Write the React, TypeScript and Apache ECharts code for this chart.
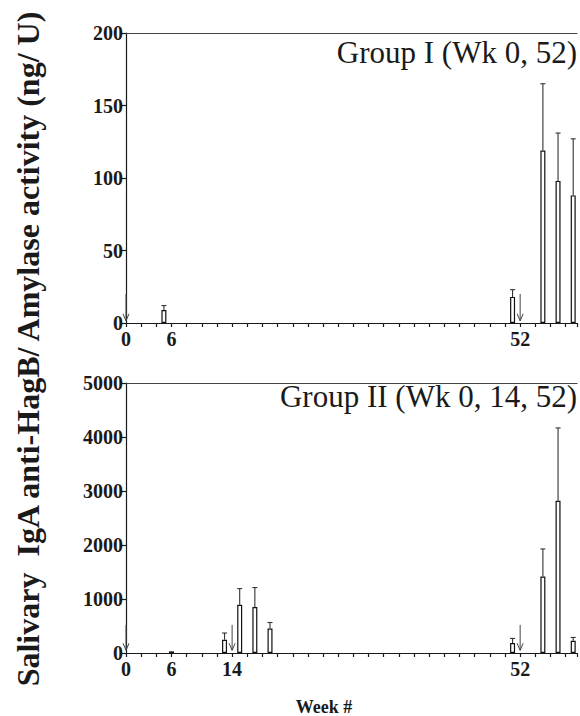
import React, { useEffect, useRef } from "react";
import * as echarts from "echarts";

// Group I (immunized wk 0, 52)
const weeksG1 = [5, 51, 55, 57, 59];
const meansG1 = [9, 18, 119, 98, 88];
const upperG1 = [12, 23, 165, 131, 127];
const arrowWeeksG1 = [0, 52];
const arrowSpanG1 = [20, 1.5];

// Group II (immunized wk 0, 14, 52)
const weeksG2 = [6, 13, 15, 17, 19, 51, 55, 57, 59];
const meansG2 = [30, 246, 892, 850, 454, 185, 1415, 2819, 227];
const upperG2 = [30, 370, 1193, 1212, 565, 270, 1927, 4168, 288];
const arrowWeeksG2 = [0, 14, 52];
const arrowSpanG2 = [520, 50];

const xLabelsG1 = [0, 6, 52];
const xLabelsG2 = [0, 6, 14, 52];
const titleG1 = "Group I (Wk 0, 52)";
const titleG2 = "Group II (Wk 0, 14, 52)";
const yTitle = "Salivary  IgA anti-HagB/ Amylase activity (ng/ U)";
const xTitle = "Week #";

const SERIF = "'Liberation Serif', 'Times New Roman', serif";
const INK = "#1a1a1a";

function errRender(params: any, api: any) {
  const x = api.value(0);
  const lo = api.value(1);
  const hi = api.value(2);
  if (hi <= lo) return { type: "group", children: [] };
  const p1 = api.coord([x, lo]);
  const p2 = api.coord([x, hi]);
  return {
    type: "group",
    children: [
      { type: "line", shape: { x1: p1[0], y1: p1[1], x2: p2[0], y2: p2[1] }, style: { stroke: "#333", lineWidth: 1.1 } },
      { type: "line", shape: { x1: p2[0] - 2.5, y1: p2[1], x2: p2[0] + 2.5, y2: p2[1] }, style: { stroke: "#333", lineWidth: 1.1 } },
    ],
  };
}

function arrowRender(params: any, api: any) {
  const x = api.value(0);
  const from = api.coord([x, api.value(1)]);
  const to = api.coord([x, api.value(2)]);
  const st = { stroke: "#444", lineWidth: 1 };
  return {
    type: "group",
    children: [
      { type: "line", shape: { x1: from[0], y1: from[1], x2: to[0], y2: to[1] }, style: st },
      { type: "line", shape: { x1: to[0] - 3, y1: to[1] - 7, x2: to[0], y2: to[1] }, style: st },
      { type: "line", shape: { x1: to[0] + 3, y1: to[1] - 7, x2: to[0], y2: to[1] }, style: st },
    ],
  };
}

function xAxisPair(grid: number, labels: number[]) {
  return [
    {
      type: "value",
      gridIndex: grid,
      min: 0,
      max: 59.5,
      interval: 2,
      axisLine: { show: true, lineStyle: { color: INK, width: 1.2 } },
      axisTick: { show: true, length: 4, lineStyle: { color: INK, width: 1.2 } },
      splitLine: { show: false },
      axisLabel: {
        margin: 6,
        fontFamily: SERIF,
        fontWeight: "bold",
        fontSize: 20,
        color: INK,
        formatter: (v: number) => (labels.indexOf(v) >= 0 ? String(v) : ""),
      },
    },
    {
      type: "value",
      gridIndex: grid,
      position: "top",
      min: 0,
      max: 59.5,
      axisLine: { show: true, lineStyle: { color: "#444", width: 1.2 } },
      axisTick: { show: false },
      axisLabel: { show: false },
      splitLine: { show: false },
    },
  ];
}

function yAxis(grid: number, max: number, interval: number) {
  return {
    type: "value",
    gridIndex: grid,
    min: 0,
    max,
    interval,
    axisLine: { show: true, lineStyle: { color: INK, width: 1.2 } },
    axisTick: { show: true, length: 5, lineStyle: { color: INK, width: 1.2 } },
    splitLine: { show: false },
    axisLabel: {
      margin: 3,
      fontFamily: SERIF,
      fontWeight: "bold",
      fontSize: 20,
      color: INK,
      formatter: (v: number) => String(v),
    },
  };
}

export default function App() {
  const ref = useRef<HTMLDivElement>(null);
  useEffect(() => {
    if (!ref.current) return;
    const chart = echarts.init(ref.current, null, { renderer: "svg" });
    const barStyle = { color: "#fff", borderColor: "#111", borderWidth: 1.2 };
    const titleStyle = { fontFamily: SERIF, fontSize: 31, fontWeight: "normal", color: INK };
    chart.setOption({
      animation: false,
      backgroundColor: "#fff",
      title: [
        { text: titleG1, right: 3, top: 37, padding: 0, textStyle: titleStyle },
        { text: titleG2, right: 3, top: 381, padding: 0, textStyle: titleStyle },
      ],
      grid: [
        { left: 126, right: 0, top: 33, height: 290 },
        { left: 126, right: 0, top: 383, height: 270 },
      ],
      xAxis: [...xAxisPair(0, xLabelsG1), ...xAxisPair(1, xLabelsG2)],
      yAxis: [yAxis(0, 200, 50), yAxis(1, 5000, 1000)],
      graphic: [
        {
          type: "text",
          x: 28,
          y: 349,
          rotation: Math.PI / 2,
          style: { text: yTitle, fontFamily: SERIF, fontWeight: "bold", fontSize: 32, fill: INK, align: "center", verticalAlign: "middle" },
        },
        {
          type: "text",
          x: 324,
          y: 707,
          style: { text: xTitle, fontFamily: SERIF, fontWeight: "bold", fontSize: 18, fill: INK, align: "center", verticalAlign: "middle" },
        },
      ],
      series: [
        {
          type: "bar",
          xAxisIndex: 0,
          yAxisIndex: 0,
          barWidth: 5,
          itemStyle: barStyle,
          data: weeksG1.map((w, i) => [w, meansG1[i]]),
        },
        {
          type: "custom",
          xAxisIndex: 0,
          yAxisIndex: 0,
          renderItem: errRender,
          z: 3,
          data: weeksG1.map((w, i) => [w, meansG1[i], upperG1[i]]),
        },
        {
          type: "custom",
          xAxisIndex: 0,
          yAxisIndex: 0,
          renderItem: arrowRender,
          z: 3,
          data: arrowWeeksG1.map((w) => [w, arrowSpanG1[0], arrowSpanG1[1]]),
        },
        {
          type: "bar",
          xAxisIndex: 2,
          yAxisIndex: 1,
          barWidth: 5,
          itemStyle: barStyle,
          data: weeksG2.map((w, i) => [w, meansG2[i]]),
        },
        {
          type: "custom",
          xAxisIndex: 2,
          yAxisIndex: 1,
          renderItem: errRender,
          z: 3,
          data: weeksG2.map((w, i) => [w, meansG2[i], upperG2[i]]),
        },
        {
          type: "custom",
          xAxisIndex: 2,
          yAxisIndex: 1,
          renderItem: arrowRender,
          z: 3,
          data: arrowWeeksG2.map((w) => [w, arrowSpanG2[0], arrowSpanG2[1]]),
        },
      ],
    });
    return () => chart.dispose();
  }, []);
  return <div ref={ref} style={{ position: "fixed", left: 0, top: 0, width: 580, height: 716 }} />;
}
